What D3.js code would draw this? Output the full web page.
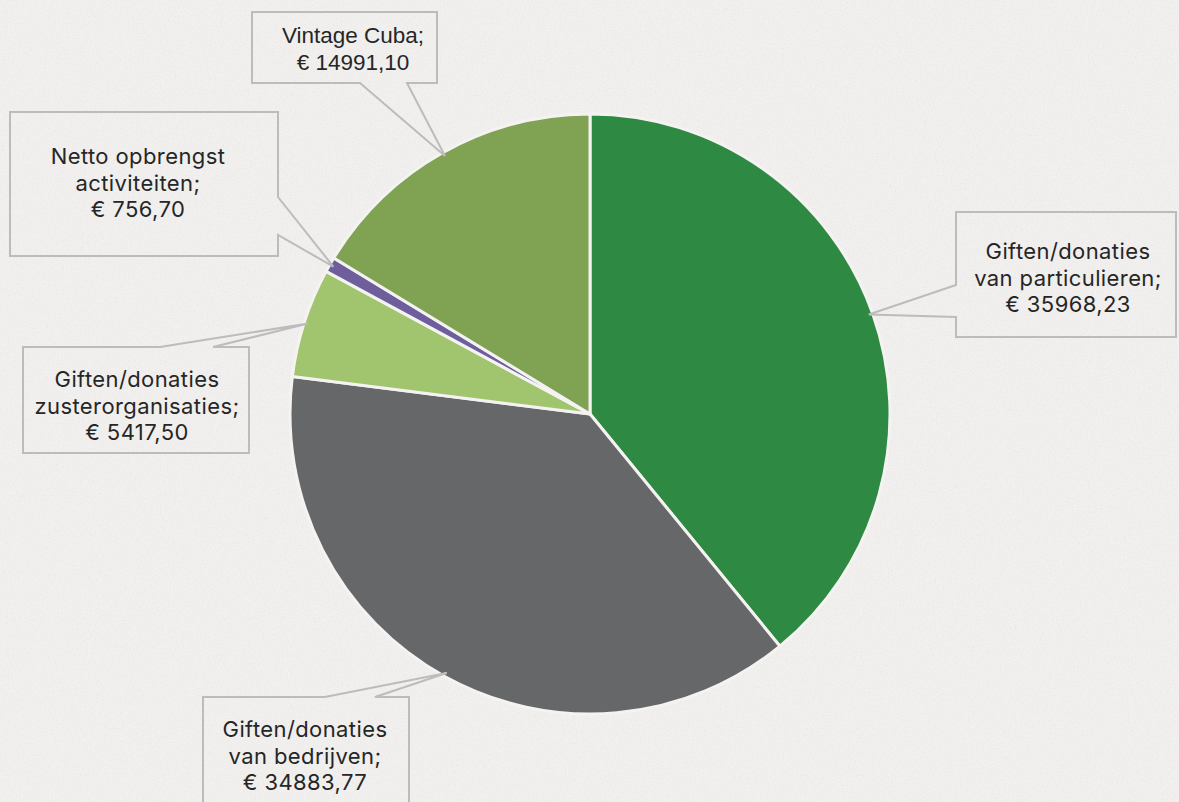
<!DOCTYPE html>
<html>
<head>
<meta charset="utf-8">
<script src="https://cdn.jsdelivr.net/npm/d3@7"></script>
<style>
  body { margin: 0; background: #efeeec; }
  svg { display: block; }
</style>
</head>
<body>
<script>
// Data
const categories = [
  'Giften/donaties van particulieren',
  'Giften/donaties van bedrijven',
  'Giften/donaties zusterorganisaties',
  'Netto opbrengst activiteiten',
  'Vintage Cuba'
]
const values = [35968.23, 34883.77, 5417.50, 756.70, 14991.10]
const labelLines = [
  ['Giften/donaties', 'van particulieren;'],
  ['Giften/donaties', 'van bedrijven;'],
  ['Giften/donaties', 'zusterorganisaties;'],
  ['Netto opbrengst', 'activiteiten;'],
  ['Vintage Cuba;']
]
const colors = ['#2e8a42', '#666768', '#a1c46e', '#6e5f9c', '#7fa253']

// Callout boxes: rect, side where the pointer leaves, pointer base span, text anchor
const boxes = [
  { x0: 956, y0: 212, x1: 1176, y1: 337, side: 'left', a: 285, b: 317, tx: 1068, ty: 259, font: 'Inter', size: 22 },
  { x0: 203, y0: 697, x1: 409, y1: 830, side: 'top', a: 325, b: 375, tx: 305, ty: 737, font: 'Inter', size: 22 },
  { x0: 23, y0: 347, x1: 249, y1: 453, side: 'top', a: 160, b: 213, tx: 137, ty: 387, font: 'Inter', size: 22 },
  { x0: 10, y0: 112, x1: 278, y1: 256, side: 'right', a: 197, b: 235, tx: 138, ty: 164, font: 'Inter', size: 22 },
  { x0: 252, y0: 12, x1: 437, y1: 83, side: 'bottom', a: 360, b: 407, tx: 353, ty: 43, font: 'Liberation Sans', size: 22.5 }
]

const width = 1179, height = 802
const cx = 590, cy = 414, radius = 300

const svg = d3.select('body').append('svg')
  .attr('width', width)
  .attr('height', height)

// faint paper texture
const defs = svg.append('defs')
const f = defs.append('filter').attr('id', 'paper').attr('x', 0).attr('y', 0).attr('width', '100%').attr('height', '100%')
f.append('feTurbulence').attr('type', 'fractalNoise').attr('baseFrequency', 0.6).attr('numOctaves', 3).attr('seed', 4)
f.append('feColorMatrix').attr('type', 'matrix')
  .attr('values', '0 0 0 0 0.55  0 0 0 0 0.55  0 0 0 0 0.55  0 0 0 -1.1 0.6')
svg.append('rect').attr('width', width).attr('height', height).style('fill', '#f1f0ee')
svg.append('rect').attr('width', width).attr('height', height).attr('filter', 'url(#paper)').style('opacity', 0.35)

const fmt = v => '€ ' + v.toFixed(2).replace('.', ',')

const pie = d3.pie().sort(null).value(d => d)
const arcs = pie(values)
const arc = d3.arc().innerRadius(0).outerRadius(radius)
const edge = d3.arc().innerRadius(radius - 4).outerRadius(radius - 4)

const g = svg.append('g').attr('transform', `translate(${cx},${cy})`)

g.selectAll('path.slice')
  .data(arcs)
  .enter().append('path')
  .attr('class', 'slice')
  .attr('d', arc)
  .style('fill', (d, i) => colors[i])
  .style('stroke', '#f4f3f1')
  .style('stroke-width', 3)
  .style('stroke-linejoin', 'round')

// Callout shapes
function calloutPath(b, tip) {
  const [tx, ty] = tip
  let p = []
  if (b.side === 'left') {
    p = [[b.x0, b.y0], [b.x1, b.y0], [b.x1, b.y1], [b.x0, b.y1], [b.x0, b.b], [tx, ty], [b.x0, b.a]]
  } else if (b.side === 'right') {
    p = [[b.x0, b.y0], [b.x1, b.y0], [b.x1, b.a], [tx, ty], [b.x1, b.b], [b.x1, b.y1], [b.x0, b.y1]]
  } else if (b.side === 'top') {
    p = [[b.x0, b.y0], [b.a, b.y0], [tx, ty], [b.b, b.y0], [b.x1, b.y0], [b.x1, b.y1], [b.x0, b.y1]]
  } else {
    p = [[b.x0, b.y0], [b.x1, b.y0], [b.x1, b.y1], [b.b, b.y1], [tx, ty], [b.a, b.y1], [b.x0, b.y1]]
  }
  return 'M' + p.map(q => q.join(',')).join('L') + 'Z'
}

arcs.forEach((d, i) => {
  const b = boxes[i]
  const c = edge.centroid(d)
  const tip = [cx + c[0], cy + c[1]]
  svg.append('path')
    .attr('d', calloutPath(b, tip))
    .style('fill', 'none')
    .style('stroke', '#bcbcbc')
    .style('stroke-width', 2)

  const lines = labelLines[i].concat([fmt(values[i])])
  const lh = 26.5
  const t = svg.append('text')
    .attr('text-anchor', 'middle')
    .style('font-family', b.font)
    .style('font-size', b.size + 'px')
    .style('letter-spacing', b.font === 'Inter' ? '0.4px' : '0px')
    .style('fill', '#262626')
  lines.forEach((s, j) => {
    t.append('tspan')
      .attr('x', b.tx)
      .attr('y', b.ty + j * lh)
      .text(s)
  })
})
</script>
</body>
</html>
